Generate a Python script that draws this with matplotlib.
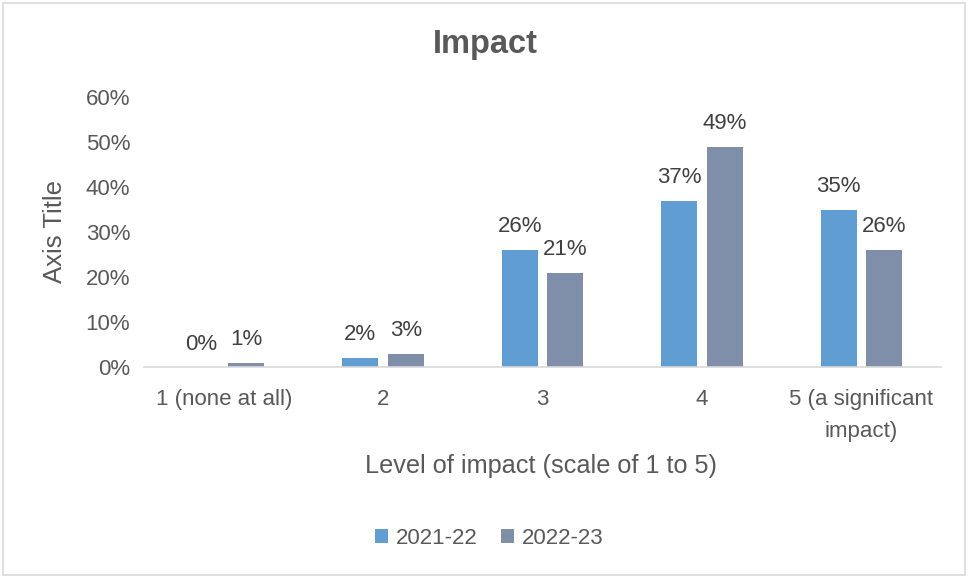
import matplotlib
matplotlib.use("Agg")
import matplotlib.pyplot as plt
import numpy as np
from matplotlib.patches import Rectangle

plt.rcParams['font.family'] = ['Liberation Sans', 'DejaVu Sans']

categories = ["1 (none at all)", "2", "3", "4", "5 (a significant\nimpact)"]
series_names = ["2021-22", "2022-23"]
values_2021 = [0, 2, 26, 37, 35]
values_2022 = [1, 3, 21, 49, 26]
yticks = [0, 10, 20, 30, 40, 50, 60]

colors = ["#5F9DD2", "#7F8FAA"]
text_color = "#595959"

fig = plt.figure(figsize=(9.68, 5.78), dpi=100)
ax = fig.add_axes([144/968, 1-367/578, 797/968, 270/578])

x = np.arange(len(categories))
w = 0.225
gap = 0.06
off = (w + gap) / 2
b1 = ax.bar(x - off, values_2021, w, color=colors[0], label=series_names[0])
b2 = ax.bar(x + off, values_2022, w, color=colors[1], label=series_names[1])

for bars, vals in ((b1, values_2021), (b2, values_2022)):
    for rect, v in zip(bars, vals):
        ax.annotate(f"{v}%", (rect.get_x() + rect.get_width()/2, v),
                    xytext=(0, 9), textcoords="offset points",
                    ha="center", va="bottom", fontsize=16, color="#404040")

ax.set_xlim(-0.5, len(categories) - 0.5)
ax.set_ylim(0, 60)
ax.set_yticks(yticks)
ax.set_yticklabels([f"{t}%" for t in yticks])
ax.set_xticks(x)
ax.set_xticklabels(categories, linespacing=1.65)
ax.tick_params(axis="both", length=0, labelsize=16, colors=text_color)
ax.tick_params(axis="x", pad=16)
ax.tick_params(axis="y", pad=10)
for s in ["top", "right", "left"]:
    ax.spines[s].set_visible(False)
ax.spines["bottom"].set_color("#D9D9D9")
ax.spines["bottom"].set_linewidth(1.2)

fig.text(55/968, 1-232/578, "Axis Title", ha="center", va="center", rotation=90,
         fontsize=18.5, color=text_color)
fig.text(541/968, 1-466/578, "Level of impact (scale of 1 to 5)", ha="center", va="center",
         fontsize=18.2, color=text_color)
fig.text(485/968, 1-45/578, "Impact", ha="center", va="center", fontsize=23.5,
         fontweight="bold", color=text_color)

leg = fig.legend(handles=[b1, b2], labels=series_names, loc="center",
                 bbox_to_anchor=(489/968, 1-538/578), ncol=2, frameon=False,
                 fontsize=16, handlelength=0.6, handleheight=0.6,
                 handletextpad=0.35, columnspacing=1.05)
for t in leg.get_texts():
    t.set_color(text_color)

fig.patches.append(Rectangle((3/968, 3/578), 962/968, 572/578, transform=fig.transFigure,
                             fill=False, edgecolor="#D9D9D9", linewidth=1.2))

fig.savefig("out.png", dpi=100)
